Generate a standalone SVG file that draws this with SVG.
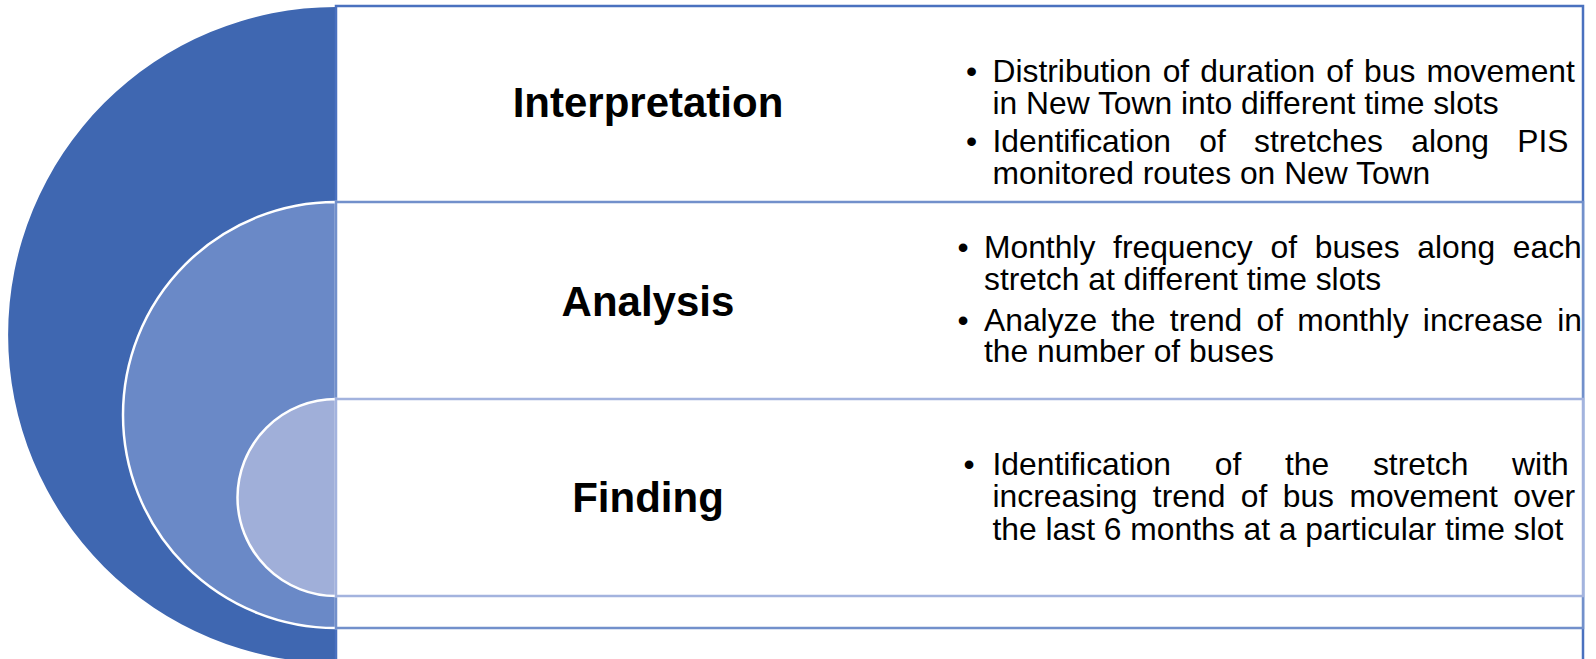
<svg xmlns="http://www.w3.org/2000/svg" width="1596" height="659" viewBox="0 0 1596 659">
  <style>
    .title { font-family: "Liberation Sans", Arial, sans-serif; font-weight: bold; font-size: 42px; fill: #000; text-anchor: middle; }
    .body { font-family: "Liberation Sans", Arial, sans-serif; font-size: 31.8px; fill: #000; }
    .box { fill: #fff; stroke-width: 2.5; }
    .disc { stroke: #fff; stroke-width: 2.5; }
  </style>
  <rect width="1596" height="659" fill="#fff"/>

  <!-- Outer level: Interpretation -->
  <g id="interpretation">
    <path d="M336,7 A328,328 0 0 0 336,663 Z" fill="#3F67B1"/>
    <rect class="box" x="336" y="6" width="1247" height="657" stroke="#4A71BF"/>
    <text class="title" x="648" y="117">Interpretation</text>
    <text class="body">
      <tspan x="966" y="82" word-spacing="0">•</tspan>
      <tspan x="992.5" y="82" word-spacing="2.3">Distribution of duration of bus movement</tspan>
      <tspan x="992.5" y="114" word-spacing="0">in New Town into different time slots</tspan>
      <tspan x="966" y="152" word-spacing="0">•</tspan>
      <tspan x="992.5" y="152" word-spacing="19.4">Identification of stretches along PIS</tspan>
      <tspan x="992.5" y="184" word-spacing="0">monitored routes on New Town</tspan>
    </text>
  </g>

  <!-- Middle level: Analysis -->
  <g id="analysis">
    <path class="disc" d="M336,202 A213,213 0 0 0 336,628 Z" fill="#6A89C7"/>
    <rect class="box" x="336" y="202" width="1247" height="426" stroke="#7290CB"/>
    <text class="title" x="648" y="316">Analysis</text>
    <text class="body">
      <tspan x="957.5" y="258" word-spacing="0">•</tspan>
      <tspan x="984" y="258" word-spacing="8.9">Monthly frequency of buses along each</tspan>
      <tspan x="984" y="290" word-spacing="0">stretch at different time slots</tspan>
      <tspan x="957.5" y="331" word-spacing="0">•</tspan>
      <tspan x="984" y="331" word-spacing="5.4">Analyze the trend of monthly increase in</tspan>
      <tspan x="984" y="362" word-spacing="0">the number of buses</tspan>
    </text>
  </g>

  <!-- Inner level: Finding -->
  <g id="finding">
    <path class="disc" d="M336,399 A98.5,98.5 0 0 0 336,596 Z" fill="#A0AFD9"/>
    <rect class="box" x="336" y="399" width="1247" height="197" stroke="#A3B3DE"/>
    <text class="title" x="648" y="512">Finding</text>
    <text class="body">
      <tspan x="963.5" y="475" word-spacing="0">•</tspan>
      <tspan x="992.5" y="475" word-spacing="34.9">Identification of the stretch with</tspan>
      <tspan x="992.5" y="507" word-spacing="6.6">increasing trend of bus movement over</tspan>
      <tspan x="992.5" y="540" word-spacing="0">the last 6 months at a particular time slot</tspan>
    </text>
  </g>

  <!-- no connectors in this layout -->
  <g id="connectors"/>
</svg>
